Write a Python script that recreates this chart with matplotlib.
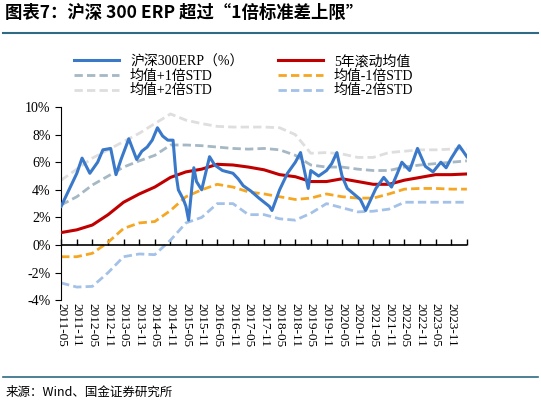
import matplotlib
matplotlib.use("Agg")
import matplotlib.pyplot as plt
import pandas as pd

plt.rcParams["font.family"] = ["Liberation Serif", "Noto Sans CJK SC", "DejaVu Sans"]

# ERP values (%)
erp_dates = ["2011-05", "2011-08", "2011-11", "2012-01", "2012-04", "2012-07", "2012-09",
             "2012-12", "2013-02", "2013-04", "2013-07", "2013-10", "2013-12", "2014-02",
             "2014-04", "2014-06", "2014-08", "2014-10", "2014-12", "2015-01", "2015-02",
             "2015-04", "2015-05", "2015-06", "2015-08", "2015-09", "2015-11", "2016-02",
             "2016-04", "2016-07", "2016-11", "2017-01", "2017-03", "2017-06", "2017-09",
             "2018-01", "2018-02", "2018-05", "2018-08", "2018-11", "2019-01", "2019-04",
             "2019-05", "2019-08", "2019-11", "2020-01", "2020-03", "2020-05", "2020-07",
             "2020-12", "2021-02", "2021-06", "2021-09", "2021-12", "2022-02", "2022-04",
             "2022-07", "2022-10", "2023-01", "2023-04", "2023-07", "2023-09", "2023-11",
             "2024-02", "2024-05"]
erp = [2.8, 4.0, 5.2, 6.3, 5.2, 6.0, 6.9, 7.0, 5.1, 6.2, 7.7, 6.2, 6.8, 7.1, 7.6, 8.5,
       7.9, 7.6, 7.6, 5.3, 4.0, 3.3, 2.8, 1.8, 5.6, 4.6, 4.0, 6.4, 5.8, 5.4, 5.2, 4.8,
       4.3, 3.9, 3.4, 2.8, 2.5, 4.0, 5.2, 6.0, 6.7, 4.1, 5.4, 5.0, 5.4, 5.9, 6.7, 5.0,
       4.1, 3.3, 2.5, 4.1, 4.9, 4.2, 5.1, 6.0, 5.4, 7.0, 5.7, 5.3, 6.0, 5.6, 6.3, 7.2, 6.4]

# rolling mean and std bands, semiannual readings (%)
band_dates = ["2011-05", "2011-11", "2012-05", "2012-11", "2013-05", "2013-11", "2014-05",
              "2014-11", "2015-05", "2015-11", "2016-05", "2016-11", "2017-05", "2017-11",
              "2018-05", "2018-11", "2019-05", "2019-11", "2020-05", "2020-11", "2021-05",
              "2021-11", "2022-05", "2022-11", "2023-05", "2023-11", "2024-05"]
mean5y = [0.9, 1.1, 1.45, 2.2, 3.1, 3.7, 4.2, 4.9, 5.3, 5.5, 5.85, 5.8, 5.65, 5.45,
          5.1, 4.95, 4.6, 4.6, 4.8, 4.6, 4.4, 4.4, 4.7, 4.9, 5.1, 5.1, 5.15]
plus1 = [2.9, 3.5, 4.35, 5.0, 5.65, 6.1, 6.5, 7.25, 7.25, 7.2, 7.1, 7.0, 6.95, 7.0,
         6.9, 6.5, 5.8, 5.65, 5.65, 5.5, 5.4, 5.4, 5.65, 5.8, 5.9, 6.0, 6.1]
minus1 = [-0.85, -0.85, -0.6, 0.2, 1.2, 1.6, 1.7, 2.5, 3.5, 4.0, 4.4, 4.2, 3.85, 3.7,
          3.5, 3.3, 3.4, 3.7, 3.5, 3.4, 3.4, 3.7, 4.05, 4.1, 4.1, 4.05, 4.05]
plus2 = [4.7, 5.5, 6.3, 6.9, 7.5, 8.1, 8.8, 9.5, 9.05, 8.8, 8.6, 8.55, 8.55, 8.55,
         8.5, 8.0, 6.65, 6.7, 6.6, 6.35, 6.35, 6.7, 6.8, 6.9, 6.9, 6.95, 6.95]
minus2 = [-2.75, -3.05, -3.0, -2.0, -0.85, -0.65, -0.7, 0.35, 1.6, 2.0, 3.0, 3.0, 2.2,
          2.2, 1.9, 1.8, 2.3, 3.0, 2.7, 2.4, 2.45, 2.6, 3.1, 3.1, 3.1, 3.1, 3.1]

tick_labels = pd.date_range("2011-05-01", "2024-05-01", freq="6MS")

x1 = pd.to_datetime(erp_dates)
x2 = pd.to_datetime(band_dates)

fig = plt.figure(figsize=(5.41, 4.04), dpi=100)
ax = fig.add_axes([0.113, 0.257, 0.75, 0.478])

dash = (0, (3, 1.5))
# order chosen so the 2-column legend fills like the reference
ax.plot(x1, erp, color="#3a78c9", lw=2.2, label="沪深300ERP（%）", zorder=5)
ax.plot(x2, plus1, color="#a5b8c4", lw=2, ls=dash, label="均值+1倍STD")
ax.plot(x2, plus2, color="#dedede", lw=2, ls=dash, label="均值+2倍STD")
ax.plot(x2, mean5y, color="#c00000", lw=2.2, label="5年滚动均值", zorder=4)
ax.plot(x2, minus1, color="#f5a623", lw=2, ls=dash, label="均值-1倍STD")
ax.plot(x2, minus2, color="#a4c1e8", lw=2, ls=dash, label="均值-2倍STD")

ax.set_ylim(-4, 10)
ax.set_yticks(range(-4, 11, 2))
ax.set_yticklabels([f"{v}%" for v in range(-4, 11, 2)], fontsize=10)
ax.set_xlim(tick_labels[0], tick_labels[-1])

ax.set_xticks(tick_labels[:-1])
ax.set_xticklabels([d.strftime("%Y-%m") for d in tick_labels[:-1]], rotation=270, fontsize=9.5)
ax.tick_params(axis="x", length=0, pad=2)
ax.tick_params(axis="y", length=4, direction="out")
for s in ["top", "right", "bottom"]:
    ax.spines[s].set_visible(False)
ax.axhline(0, color="black", lw=1.2, zorder=6)

sec = ax.secondary_xaxis(4 / 14)
sec.set_xticks(tick_labels)
sec.set_xticklabels([])
sec.tick_params(direction="in", length=4, width=1)
sec.spines["bottom"].set_visible(False)

ax.legend(loc="lower center", bbox_to_anchor=(0.45, 0.985), ncol=2, frameon=False,
          handlelength=3.2, columnspacing=2.5, labelspacing=0.1,
          prop={"family": ["Liberation Serif", "Noto Sans CJK SC"], "size": 10})

fig.text(0.01, 0.955, "图表7：沪深 300 ERP 超过“1倍标准差上限”", fontsize=12.5,
         fontweight="bold", style="italic", family=["Noto Sans CJK SC", "DejaVu Sans"])
fig.add_artist(plt.Line2D([0.005, 0.995], [0.918, 0.918], color="#2f6b84", lw=1.5))
fig.add_artist(plt.Line2D([0.005, 0.995], [0.067, 0.067], color="#2f6b84", lw=1.2))
fig.text(0.01, 0.02, "来源：Wind、国金证券研究所", fontsize=9,
         family=["Noto Sans CJK SC", "DejaVu Sans"])

fig.savefig("out.png", dpi=100)
